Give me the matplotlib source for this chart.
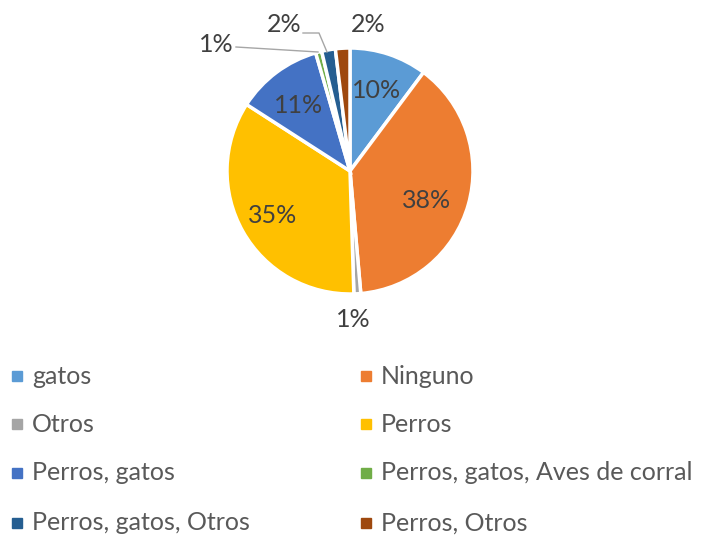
import matplotlib
matplotlib.use("Agg")
import matplotlib.pyplot as plt
from matplotlib.patches import Rectangle

labels = ['gatos', 'Ninguno', 'Otros', 'Perros', 'Perros, gatos',
          'Perros, gatos, Aves de corral', 'Perros, gatos, Otros', 'Perros, Otros']
values = [10.2, 38.4, 0.9, 34.6, 11.4, 0.8, 1.8, 1.9]
pct_text = ['10%', '38%', '1%', '35%', '11%', '1%', '2%', '2%']
colors = ['#5B9BD5', '#ED7D31', '#A5A5A5', '#FFC000', '#4472C4',
          '#70AD47', '#255E91', '#9E480E']

W, H = 705, 540
fig = plt.figure(figsize=(W / 100, H / 100), dpi=100)
plt.rcParams['font.family'] = ['Lato', 'DejaVu Sans']

cx, cy, r = 350, 171, 123
ax = fig.add_axes([(cx - r) / W, 1 - (cy + r) / H, 2 * r / W, 2 * r / H])
wedges, _ = ax.pie(values, colors=colors, startangle=90, counterclock=False,
                   radius=1, wedgeprops=dict(edgecolor='white', linewidth=2.5))
ax.set_xlim(-1, 1)
ax.set_ylim(-1, 1)
ax.set_aspect('equal')
ax.axis('off')

def px(x, y):
    return ((x - cx) / r, (cy - y) / r)

# label positions in pixels of the reference layout
label_pos = [(377, 91), (427, 201), (353, 320), (273, 216), (299, 106),
             (216, 45), (284, 24), (368, 24)]
for t, (x, y) in zip(pct_text, label_pos):
    ax.text(*px(x, y), t, ha='center', va='center', fontsize=18,
            color='#404040', clip_on=False)

lead = '#A6A6A6'
l1 = [px(236, 47), px(318, 52)]
ax.plot([p[0] for p in l1], [p[1] for p in l1], color=lead, lw=1, clip_on=False)
l2 = [px(303, 33), px(319, 33), px(327, 52)]
ax.plot([p[0] for p in l2], [p[1] for p in l2], color=lead, lw=1, clip_on=False)

# legend, two columns
col_x = [12, 361]
row_y = [376, 424, 473, 523]
for i, (lab, col) in enumerate(zip(labels, colors)):
    x = col_x[i % 2]
    y = row_y[i // 2]
    fig.patches.append(Rectangle((x / W, 1 - (y + 5) / H), 10 / W, 10 / H,
                                 transform=fig.transFigure, color=col))
    fig.text((x + 20) / W, 1 - y / H, lab, ha='left', va='center',
             fontsize=18, color='#595959')

fig.savefig('out.png', dpi=100)
